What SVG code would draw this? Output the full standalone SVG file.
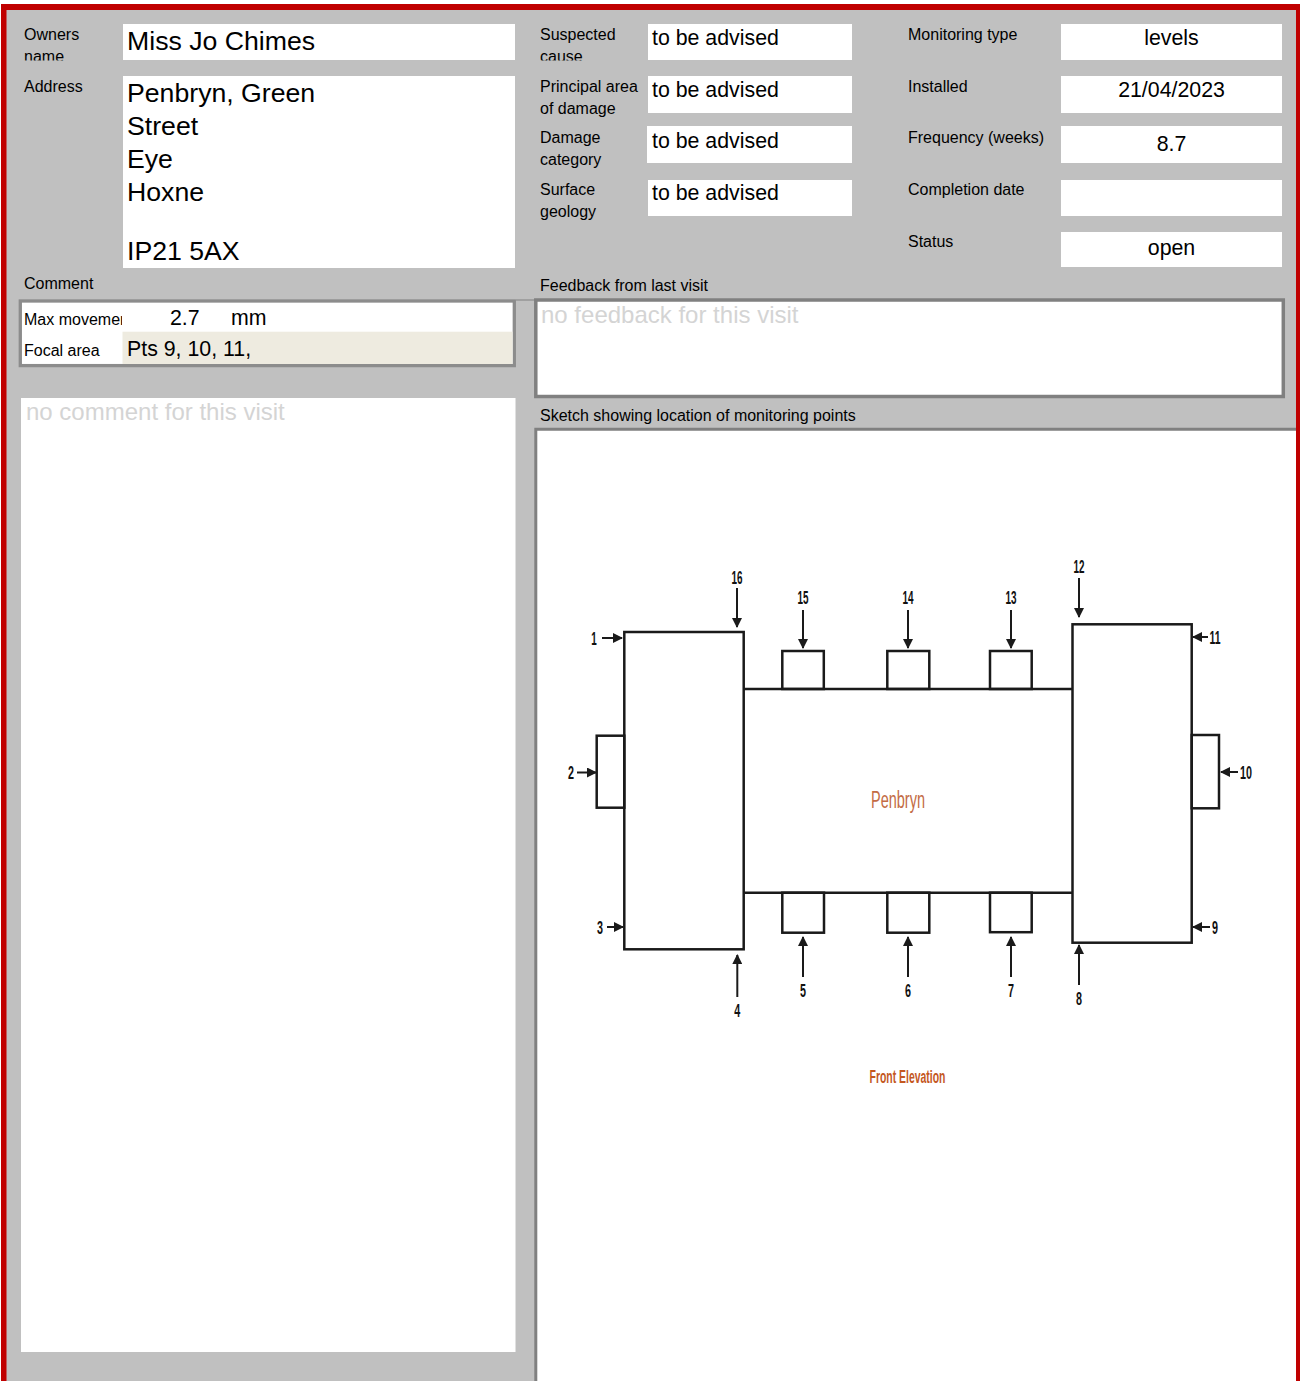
<svg xmlns="http://www.w3.org/2000/svg" width="1300" height="1381" viewBox="0 0 1300 1381">
<style>
text{font-family:"Liberation Sans",Arial,sans-serif;fill:#000}
.lbl{font-size:16px}
.val{font-size:21.33px}
.big{font-size:26.67px}
.ph{font-size:24px;fill:#D4D4D4}
.box{fill:#fff}
.num{font-size:18.5px;font-weight:bold;fill:#111;text-anchor:middle}
.ln{stroke:#1a1a1a;stroke-width:2.5;fill:none}
.ar{stroke:#1a1a1a;stroke-width:2;fill:none;marker-end:url(#ah)}
.c{text-anchor:middle}
</style>
<defs>
<marker id="ah" viewBox="0 0 10 10" refX="9" refY="5" markerWidth="5" markerHeight="5" orient="auto" markerUnits="strokeWidth">
<path d="M0,0 L10,5 L0,10 z" fill="#1a1a1a"/>
</marker>
<clipPath id="clipTop"><rect x="0" y="0" width="1300" height="60.5"/></clipPath>
<clipPath id="clipMax"><rect x="0" y="300" width="122" height="40"/></clipPath>
</defs>
<rect x="0" y="0" width="1300" height="1381" fill="#fff"/>
<rect x="1" y="4" width="1299" height="1377" fill="#C00000"/>
<rect x="6.5" y="10" width="1289.5" height="1371" fill="#C0C0C0"/>

<g id="owner">
<text class="lbl" x="24" y="40" clip-path="url(#clipTop)">Owners<tspan x="24" y="61.5">name</tspan></text>
<rect class="box" x="123" y="24" width="392" height="36"/>
<text class="big" x="127" y="49.5">Miss Jo Chimes</text>
</g>
<g id="address">
<text class="lbl" x="24" y="92">Address</text>
<rect class="box" x="123" y="76" width="392" height="192"/>
<text class="big" x="127" y="102">Penbryn, Green</text>
<text class="big" x="127" y="135">Street</text>
<text class="big" x="127" y="168">Eye</text>
<text class="big" x="127" y="201">Hoxne</text>
<text class="big" x="127" y="259.5">IP21 5AX</text>
</g>

<g id="suspected-cause">
<text class="lbl" x="540" y="40" clip-path="url(#clipTop)">Suspected<tspan x="540" y="61.5">cause</tspan></text>
<rect class="box" x="648" y="24" width="204" height="36"/>
<text class="val" x="652" y="45">to be advised</text>
</g>
<g id="principal-area">
<text class="lbl" x="540" y="92">Principal area<tspan x="540" y="113.5">of damage</tspan></text>
<rect class="box" x="648" y="76" width="204" height="37"/>
<text class="val" x="652" y="97">to be advised</text>
</g>
<g id="damage-category">
<text class="lbl" x="540" y="143">Damage<tspan x="540" y="164.5">category</tspan></text>
<rect class="box" x="647" y="126" width="205" height="37"/>
<text class="val" x="652" y="147.5">to be advised</text>
</g>
<g id="surface-geology">
<text class="lbl" x="540" y="195">Surface<tspan x="540" y="216.5">geology</tspan></text>
<rect class="box" x="648" y="180" width="204" height="36"/>
<text class="val" x="652" y="199.5">to be advised</text>
</g>

<g id="monitoring-type">
<text class="lbl" x="908" y="40">Monitoring type</text>
<rect class="box" x="1061" y="24" width="221" height="36"/>
<text class="val c" x="1171.5" y="45">levels</text>
</g>
<g id="installed">
<text class="lbl" x="908" y="92">Installed</text>
<rect class="box" x="1061" y="76" width="221" height="37"/>
<text class="val c" x="1171.5" y="97">21/04/2023</text>
</g>
<g id="frequency">
<text class="lbl" x="908" y="143">Frequency (weeks)</text>
<rect class="box" x="1061" y="126" width="221" height="37"/>
<text class="val c" x="1171.5" y="151">8.7</text>
</g>
<g id="completion-date">
<text class="lbl" x="908" y="195">Completion date</text>
<rect class="box" x="1061" y="180" width="221" height="36"/>
</g>
<g id="status">
<text class="lbl" x="908" y="247">Status</text>
<rect class="box" x="1061" y="232" width="221" height="35"/>
<text class="val c" x="1171.5" y="255">open</text>
</g>

<g id="comment-summary">
<text class="lbl" x="24" y="289">Comment</text>
<rect x="20.3" y="301" width="494" height="64.6" fill="#fff" stroke="#8C8C8C" stroke-width="3.3"/>
<rect x="122.5" y="331.7" width="390" height="32.3" fill="#EEEBE0"/>
<text class="lbl" x="24" y="325" clip-path="url(#clipMax)">Max movement</text>
<text class="val" x="170" y="324.5">2.7</text>
<text class="val" x="231" y="324.5">mm</text>
<text class="lbl" x="24" y="356">Focal area</text>
<text class="val" x="127" y="355.5">Pts 9, 10, 11,</text>
<line x1="516" y1="300" x2="535" y2="300" stroke="#A0A0A0" stroke-width="2"/>
</g>

<g id="feedback">
<text class="lbl" x="540" y="290.5">Feedback from last visit</text>
<rect x="535.8" y="300" width="747.5" height="96.5" fill="#fff" stroke="#808080" stroke-width="3.5"/>
<text class="ph" x="541" y="323">no feedback for this visit</text>
</g>

<g id="comment">
<rect class="box" x="21" y="398" width="494.5" height="954"/>
<text class="ph" x="26" y="420">no comment for this visit</text>
</g>

<g id="sketch">
<text class="lbl" x="540" y="420.5">Sketch showing location of monitoring points</text>
<rect x="535.8" y="429.2" width="760.2" height="952" fill="#fff"/>
<path d="M535.8,1381 V429.2 H1296" fill="none" stroke="#808080" stroke-width="3"/>
</g>

<g id="building">
<rect class="ln" x="624.3" y="632" width="119.4" height="317.3"/>
<rect class="ln" x="1072.5" y="624.3" width="119.2" height="318.4"/>
<line class="ln" x1="743.7" y1="689" x2="1072.5" y2="689"/>
<line class="ln" x1="743.7" y1="892.7" x2="1072.5" y2="892.7"/>
<rect class="ln" x="782.3" y="651" width="41.5" height="38"/>
<rect class="ln" x="887.3" y="651" width="42" height="38"/>
<rect class="ln" x="990" y="651" width="41.7" height="38"/>
<rect class="ln" x="782.3" y="892.7" width="41.7" height="40"/>
<rect class="ln" x="887.3" y="892.7" width="42" height="40"/>
<rect class="ln" x="990" y="892.7" width="41.7" height="39.5"/>
<rect class="ln" x="596.7" y="735.7" width="27.6" height="72"/>
<rect class="ln" x="1191.7" y="735" width="27.3" height="73.3"/>
<text x="898" y="807.5" font-size="23" text-anchor="middle" textLength="54" lengthAdjust="spacingAndGlyphs" style="fill:#C36B45">Penbryn</text>
<text x="907.5" y="1083" font-size="18" font-weight="bold" text-anchor="middle" textLength="76" lengthAdjust="spacingAndGlyphs" style="fill:#C4581F">Front Elevation</text>
</g>

<g id="connectors">
<line class="ar" x1="737" y1="588" x2="737" y2="627"/>
<line class="ar" x1="803" y1="610" x2="803" y2="648"/>
<line class="ar" x1="908" y1="610" x2="908" y2="648"/>
<line class="ar" x1="1011" y1="610" x2="1011" y2="648"/>
<line class="ar" x1="1079" y1="578" x2="1079" y2="617"/>
<line class="ar" x1="602" y1="638" x2="622" y2="638"/>
<line class="ar" x1="1208" y1="637" x2="1193" y2="637"/>
<line class="ar" x1="577" y1="772.5" x2="596" y2="772.5"/>
<line class="ar" x1="1238" y1="772" x2="1221" y2="772"/>
<line class="ar" x1="607" y1="927" x2="623" y2="927"/>
<line class="ar" x1="1210" y1="927" x2="1193" y2="927"/>
<line class="ar" x1="737.3" y1="997" x2="737.3" y2="955"/>
<line class="ar" x1="803" y1="977" x2="803" y2="937"/>
<line class="ar" x1="908" y1="977" x2="908" y2="937"/>
<line class="ar" x1="1011" y1="977" x2="1011" y2="937"/>
<line class="ar" x1="1079" y1="985" x2="1079" y2="945"/>
</g>

<g id="point-labels">
<text class="num" x="737" y="583.5" textLength="11" lengthAdjust="spacingAndGlyphs">16</text>
<text class="num" x="803" y="603.5" textLength="11" lengthAdjust="spacingAndGlyphs">15</text>
<text class="num" x="908" y="603.5" textLength="11" lengthAdjust="spacingAndGlyphs">14</text>
<text class="num" x="1011" y="603.5" textLength="11" lengthAdjust="spacingAndGlyphs">13</text>
<text class="num" x="1079" y="572.5" textLength="11" lengthAdjust="spacingAndGlyphs">12</text>
<text class="num" x="594" y="645" textLength="5.5" lengthAdjust="spacingAndGlyphs">1</text>
<text class="num" x="1215" y="643.5" textLength="11" lengthAdjust="spacingAndGlyphs">11</text>
<text class="num" x="571" y="779" textLength="6" lengthAdjust="spacingAndGlyphs">2</text>
<text class="num" x="1246" y="778.5" textLength="12" lengthAdjust="spacingAndGlyphs">10</text>
<text class="num" x="600" y="933.5" textLength="6" lengthAdjust="spacingAndGlyphs">3</text>
<text class="num" x="1215" y="933.5" textLength="6" lengthAdjust="spacingAndGlyphs">9</text>
<text class="num" x="737.3" y="1016.5" textLength="6" lengthAdjust="spacingAndGlyphs">4</text>
<text class="num" x="803" y="996.5" textLength="6" lengthAdjust="spacingAndGlyphs">5</text>
<text class="num" x="908" y="996.5" textLength="6" lengthAdjust="spacingAndGlyphs">6</text>
<text class="num" x="1011" y="996.5" textLength="6" lengthAdjust="spacingAndGlyphs">7</text>
<text class="num" x="1079" y="1004.5" textLength="6" lengthAdjust="spacingAndGlyphs">8</text>
</g>
</svg>
